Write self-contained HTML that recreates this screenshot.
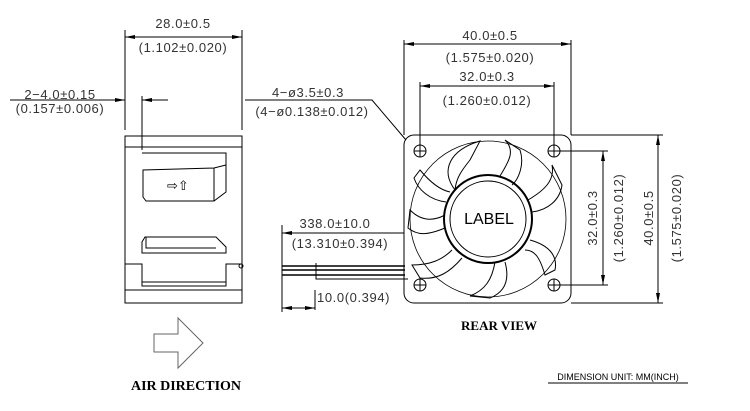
<!DOCTYPE html>
<html><head><style>body{margin:0;background:#fff}svg{display:block}</style></head><body>
<svg width="750" height="411" viewBox="0 0 750 411" xmlns="http://www.w3.org/2000/svg" font-family="Liberation Sans, sans-serif" fill="none" stroke="#000" stroke-width="1">
<defs><marker id="a" markerWidth="10" markerHeight="6" refX="10" refY="3" orient="auto-start-reverse" markerUnits="userSpaceOnUse"><path d="M0,1 L10,3 L0,5z" fill="#000" stroke="none"/></marker></defs>
<g font-size="13" fill="#333" stroke="none" letter-spacing="0.6">
<text x="183" y="28" text-anchor="middle">28.0±0.5</text>
<text x="183" y="52" text-anchor="middle">(1.102±0.020)</text>
<text x="60" y="99" text-anchor="middle">2−4.0±0.15</text>
<text x="60" y="113" text-anchor="middle">(0.157±0.006)</text>
<text x="308" y="97" text-anchor="middle">4−ø3.5±0.3</text>
<text x="312" y="116" text-anchor="middle">(4−ø0.138±0.012)</text>
<text x="490" y="40" text-anchor="middle">40.0±0.5</text>
<text x="490" y="62" text-anchor="middle">(1.575±0.020)</text>
<text x="487" y="81" text-anchor="middle">32.0±0.3</text>
<text x="487" y="105" text-anchor="middle">(1.260±0.012)</text>
<text x="335" y="228" text-anchor="middle">338.0±10.0</text>
<text x="340" y="248" text-anchor="middle">(13.310±0.394)</text>
<text x="317" y="302">10.0(0.394)</text>
<text transform="translate(597,218) rotate(-90)" text-anchor="middle">32.0±0.3</text>
<text transform="translate(623,218) rotate(-90)" text-anchor="middle">(1.260±0.012)</text>
<text transform="translate(653,218) rotate(-90)" text-anchor="middle">40.0±0.5</text>
<text transform="translate(681,218) rotate(-90)" text-anchor="middle">(1.575±0.020)</text>
</g>
<g stroke="none" fill="#000">
<text x="489" y="224" text-anchor="middle" font-size="16">LABEL</text>
<text x="499" y="330" text-anchor="middle" font-family="Liberation Serif, serif" font-weight="bold" font-size="13">REAR VIEW</text>
<text x="186" y="390" text-anchor="middle" font-family="Liberation Serif, serif" font-weight="bold" font-size="14">AIR DIRECTION</text>
<text x="618" y="380" text-anchor="middle" font-size="9">DIMENSION UNIT: MM(INCH)</text>
</g>
<path d="M548 383H688"/>
<path d="M125 30V130M242 30V130"/>
<path d="M125 37H242" marker-start="url(#a)" marker-end="url(#a)"/>
<path d="M10 100H125" marker-end="url(#a)"/>
<path d="M168 100H142" marker-end="url(#a)"/>
<path d="M142 96V150"/>
<path d="M245 100H372L406 140"/>
<rect x="125" y="136" width="117" height="167"/>
<path d="M125 147H242M125 290H242"/>
<path d="M142 153H226V192L214 201H146L143 197V170L214 168L226 165M214 168V201"/>
<text x="167" y="190" font-size="13" fill="#000" stroke="none">⇨⇧</text>
<path d="M142 242L145 237H216L226 247V253H142z"/>
<path d="M146 237V248H216"/>
<path d="M125 264H142V286H226V264H242"/><path d="M142 282H226"/>
<circle cx="241" cy="266" r="2"/>
<path d="M154 334H178V318L203 343L178 368V352H154z" stroke="#666"/>
<path d="M282 225V312M315 290V310"/>
<path d="M404 233H282" marker-end="url(#a)"/>
<path d="M282 308H315" marker-start="url(#a)" marker-end="url(#a)"/>
<path d="M282 266H405M282 270H405M282 275H405" stroke-width="1.5"/>
<path d="M316 263V279H408" />
<path d="M404 40V135M571 40V135M420 82V151M554 82V151"/>
<path d="M404 44H571" marker-start="url(#a)" marker-end="url(#a)"/>
<path d="M420 86H554" marker-start="url(#a)" marker-end="url(#a)"/>
<path d="M554 151H608M554 285H608M571 135H663M571 303H663"/>
<path d="M603 151V285" marker-start="url(#a)" marker-end="url(#a)"/>
<path d="M658 135V303" marker-start="url(#a)" marker-end="url(#a)"/>
<rect x="404" y="135" width="167" height="168" rx="10"/>
<g>
<circle cx="420" cy="151" r="6"/><path d="M414 151H426M420 145V157"/>
<circle cx="554" cy="151" r="6"/><path d="M548 151H560M554 145V157"/>
<circle cx="420" cy="285" r="6"/><path d="M414 285H426M420 279V291"/>
<circle cx="554" cy="285" r="6"/><path d="M548 285H560M554 279V291"/>
</g>
<circle cx="488" cy="219" r="78" stroke-width="0.8"/>
<circle cx="488" cy="219" r="44" stroke-width="2"/>
<circle cx="488" cy="219" r="38"/>
<g>
<path d="M455 190C440 170 450 150 480 141L470 160C462 170 456 178 455 190"/>
<path d="M500 176C510 160 515 150 505 140L520 150C525 165 518 180 512 185"/>
<path d="M528 200C545 190 555 180 552 165L562 185C560 200 548 210 532 212"/>
<path d="M530 240C548 245 558 255 555 270L545 275C540 258 535 250 525 250"/>
<path d="M505 262C510 280 505 292 490 298L470 296C485 290 492 280 495 262"/>
<path d="M462 258C450 272 438 280 420 278L412 265C430 265 442 260 452 250"/>
<path d="M445 228C428 235 418 236 408 228L410 210C420 220 432 222 445 215"/>
<path d="M446 202C430 200 418 190 414 178L420 170C430 182 440 190 450 192"/>
</g>
</svg>
</body></html>
